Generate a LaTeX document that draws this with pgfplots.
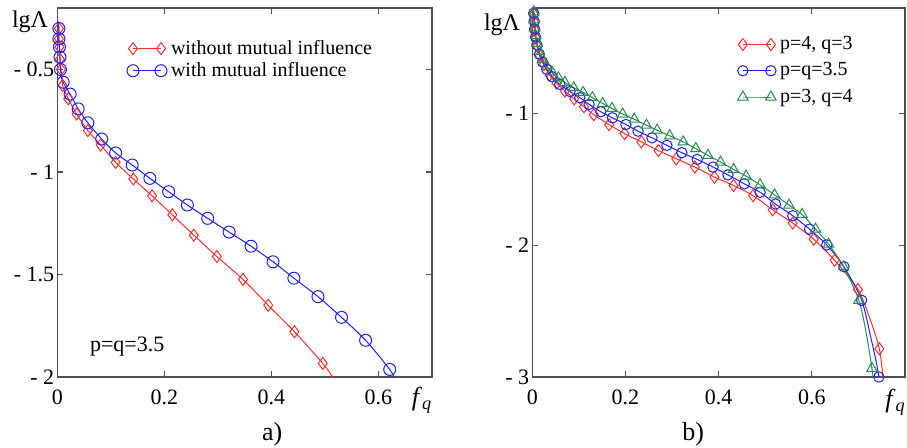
\documentclass[border=0pt]{standalone}
\usepackage{fontspec}
\setmainfont{Liberation Serif}
\usepackage{pgfplots}
\pgfplotsset{compat=1.18}
\usepackage{pgfplotstable}

\definecolor{cred}{RGB}{255,45,45}
\definecolor{cblue}{RGB}{30,30,255}
\definecolor{cgreen}{RGB}{40,140,80}
\definecolor{axgray}{RGB}{80,80,80}

\pgfplotstableread{
x y
0.001 -0.265
0.003 -0.30
0.003 -0.35
0.004 -0.39
0.005 -0.45
0.007 -0.50
0.010 -0.578
0.0205 -0.643
0.036 -0.717
0.057 -0.798
0.081 -0.868
0.109 -0.953
0.142 -1.034
0.177 -1.116
0.215 -1.209
0.255 -1.308
0.298 -1.412
0.347 -1.524
0.394 -1.650
0.443 -1.779
0.496 -1.934
0.517 -2.01
}\leftred

\pgfplotstableread{
x y
0.001 -0.265
0.003 -0.30
0.003 -0.35
0.004 -0.39
0.005 -0.44
0.006 -0.50
0.011 -0.562
0.024 -0.62
0.039 -0.692
0.057 -0.760
0.083 -0.839
0.109 -0.907
0.140 -0.966
0.173 -1.031
0.208 -1.096
0.243 -1.161
0.281 -1.226
0.321 -1.293
0.362 -1.362
0.403 -1.438
0.442 -1.518
0.487 -1.608
0.531 -1.709
0.576 -1.821
0.621 -1.963
0.630 -2.01
}\leftblue

\pgfplotstableread{
x y
0.003 -0.22
0.004 -0.25
0.005 -0.31
0.006 -0.37
0.008 -0.43
0.011 -0.49
0.016 -0.56
0.025 -0.63
0.037 -0.71
0.052 -0.77
0.070 -0.83
0.090 -0.89
0.111 -0.95
0.132 -1.01
0.165 -1.085
0.198 -1.153
0.234 -1.216
0.271 -1.282
0.309 -1.344
0.349 -1.407
0.391 -1.483
0.432 -1.547
0.474 -1.624
0.516 -1.731
0.559 -1.832
0.604 -1.954
0.649 -2.115
0.699 -2.336
0.724 -2.55
0.745 -2.786
0.753 -3.02
}\rightred

\pgfplotstableread{
x y
0.002 -0.21
0.003 -0.24
0.004 -0.30
0.005 -0.36
0.007 -0.42
0.010 -0.48
0.015 -0.55
0.022 -0.61
0.031 -0.665
0.042 -0.72
0.059 -0.779
0.081 -0.834
0.102 -0.880
0.122 -0.931
0.147 -0.987
0.172 -1.033
0.201 -1.084
0.227 -1.135
0.257 -1.185
0.289 -1.242
0.321 -1.298
0.354 -1.349
0.388 -1.407
0.420 -1.466
0.455 -1.534
0.489 -1.598
0.522 -1.687
0.559 -1.776
0.595 -1.878
0.632 -1.998
0.669 -2.163
0.707 -2.418
0.726 -2.69
0.738 -2.88
0.744 -3.0
}\rightblue

\pgfplotstableread{
x y
0.002 -0.20
0.003 -0.23
0.004 -0.29
0.005 -0.35
0.007 -0.41
0.010 -0.47
0.015 -0.53
0.022 -0.59
0.031 -0.64
0.042 -0.685
0.056 -0.73
0.070 -0.765
0.089 -0.805
0.109 -0.840
0.129 -0.880
0.151 -0.924
0.171 -0.962
0.194 -1.005
0.219 -1.044
0.245 -1.089
0.268 -1.127
0.295 -1.170
0.324 -1.216
0.351 -1.267
0.377 -1.318
0.404 -1.369
0.432 -1.425
0.459 -1.476
0.489 -1.542
0.520 -1.618
0.551 -1.695
0.579 -1.766
0.608 -1.878
0.636 -1.992
0.668 -2.163
0.701 -2.418
0.718 -2.69
0.729 -2.934
0.732 -3.02
}\rightgreen

\pgfplotsset{
  myaxis/.style={
    scale only axis,
    axis line style={axgray, line width=0.6pt},
    tick style={axgray, line width=0.6pt},
    major tick length=3pt,
    tick align=inside,
    xtick pos=both, ytick pos=both,
    tick label style={font=\fontsize{11}{13}\selectfont, text=black},
    xticklabel style={yshift=-3pt},
    yticklabel style={xshift=2pt},
    /pgf/number format/assume math mode=true,
    clip=true,
    legend cell align=left,
    legend style={draw=none, fill=none, font=\fontsize{10}{12}\selectfont,
      inner sep=0pt, row sep=-1.5pt,
      /tikz/every even column/.append style={column sep=3pt}},
  },
  twolegend/.style={legend image code/.code={%
    \draw[mark repeat=2, mark phase=1, ##1, sharp plot]
      plot coordinates {(0pt,0pt) (7pt,0pt) (14pt,0pt)};}},
  lred/.style={cred, line width=0.5pt, mark=diamond, mark size=3pt,
    mark options={solid, line width=0.5pt, fill=none}},
  lblue/.style={cblue, line width=0.5pt, mark=o, mark size=3pt,
    mark options={solid, line width=0.5pt, fill=none}},
  lgreen/.style={cgreen, line width=0.5pt, mark=triangle, mark size=3pt,
    mark options={solid, line width=0.5pt, fill=none}},
}

\begin{document}
\begin{tikzpicture}
\begin{axis}[myaxis,
  at={(0pt,0pt)}, anchor=south west,
  width=187.35pt, height=184.5pt,
  xmin=0, xmax=0.7, ymin=-2, ymax=-0.2,
  xtick={0,0.2,0.4,0.6}, xticklabels={0,0.2,0.4,0.6},
  ytick={-2,-1.5,-1,-0.5}, yticklabels={- 2,- 1.5,- 1,- 0.5},
  legend style={at={(0.185,0.925)}, anchor=north west},
]
\addplot[lred, no marks, smooth, forget plot] table {\leftred};
\addplot[lred, only marks, skip coords between index={0}{1},
  skip coords between index={21}{22}, twolegend] table {\leftred};
\addlegendentry{without mutual influence}
\addplot[lblue, no marks, smooth, forget plot] table {\leftblue};
\addplot[lblue, only marks, skip coords between index={0}{1},
  skip coords between index={25}{26}, twolegend] table {\leftblue};
\addlegendentry{with mutual influence}
\end{axis}

\begin{axis}[myaxis,
  at={(237.5pt,0pt)}, anchor=south west,
  width=186.35pt, height=184.5pt,
  xmin=0, xmax=0.8, ymin=-3, ymax=-0.2,
  xtick={0,0.2,0.4,0.6}, xticklabels={0,0.2,0.4,0.6},
  ytick={-3,-2,-1}, yticklabels={- 3,- 2,- 1},
  legend style={at={(0.55,0.935)}, anchor=north west, row sep=1pt},
]
\addplot[lred, no marks, smooth, forget plot] table {\rightred};
\addplot[lred, only marks, skip coords between index={0}{1},
  skip coords between index={28}{29},
  skip coords between index={30}{31}, twolegend] table {\rightred};
\addlegendentry{p=4, q=3}
\addplot[lblue, no marks, smooth, forget plot] table {\rightblue};
\addplot[lblue, mark size=2.6pt, only marks, skip coords between index={0}{1},
  skip coords between index={32}{34}, twolegend] table {\rightblue};
\addlegendentry{p=q=3.5}
\addplot[lgreen, no marks, smooth, forget plot] table {\rightgreen};
\addplot[lgreen, only marks, skip coords between index={0}{1},
  skip coords between index={36}{37},
  skip coords between index={38}{39}, twolegend] table {\rightgreen};
\addlegendentry{p=3, q=4}
\end{axis}

\node[font=\fontsize{12}{14}\selectfont] at (-13.6pt,177.5pt) {lgΛ};
\node[font=\fontsize{12}{14}\selectfont] at (222.4pt,176pt) {lgΛ};
\node[font=\fontsize{13}{15}\selectfont] at (182.4pt,-11.5pt) {\textit{f}\textsubscript{\textit{q}}};
\node[font=\fontsize{13}{15}\selectfont, anchor=east, inner xsep=0.5pt] at (424.85pt,-12.5pt) {\textit{f}\textsubscript{\textit{q}}};
\node[font=\fontsize{11}{13}\selectfont, anchor=west] at (12.85pt,15pt) {p=q=3.5};
\node[font=\fontsize{13}{15}\selectfont] at (107.4pt,-28.5pt) {a)};
\node[font=\fontsize{13}{15}\selectfont] at (317.9pt,-28.5pt) {b)};

\pgfresetboundingbox
\path (-28.65pt,-35pt) rectangle (424.85pt,188.5pt);
\end{tikzpicture}
\end{document}
